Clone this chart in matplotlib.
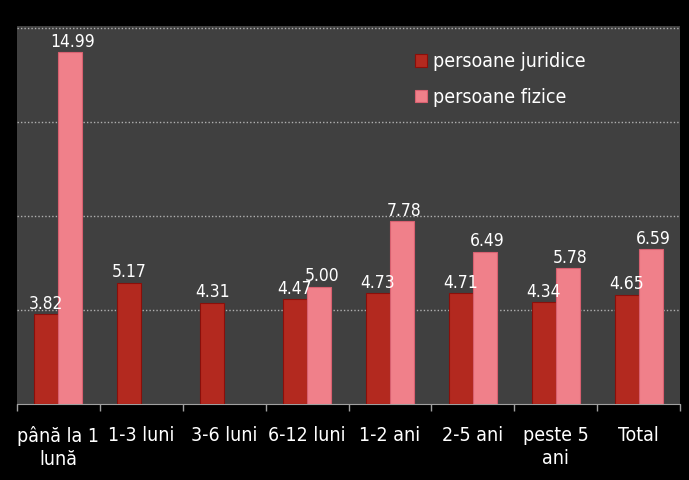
import numpy as np
import matplotlib
matplotlib.use("Agg")
import matplotlib.pyplot as plt
from matplotlib import font_manager as fm

categories = ["până la 1\nlună", "1-3 luni", "3-6 luni", "6-12 luni", "1-2 ani", "2-5 ani", "peste 5\nani", "Total"]
juridice = [3.82, 5.17, 4.31, 4.47, 4.73, 4.71, 4.34, 4.65]
fizice = [14.99, np.nan, np.nan, 5.00, 7.78, 6.49, 5.78, 6.59]
series_names = ["persoane juridice", "persoane fizice"]

cond_path = fm.findfont(fm.FontProperties(family="DejaVu Sans", stretch="condensed"))
if "Condensed" in cond_path:
    plt.rcParams['font.family'] = ['DejaVu Sans']
    plt.rcParams['font.stretch'] = 'condensed'
    fs_val, fs_tick, fs_leg = 12.5, 14, 14
else:
    plt.rcParams['font.family'] = ['Roboto', 'DejaVu Sans']
    fs_val, fs_tick, fs_leg = 12, 14, 14

fig = plt.figure(figsize=(6.89, 4.8), dpi=100)
fig.patch.set_facecolor("black")
ax = fig.add_axes([17/689, 1-404/480, (680-17)/689, (404-26)/480])
ax.set_facecolor("#404040")

x = np.arange(len(categories))
w = 0.29
dark = "#b3291f"
pink = "#f0808a"
ax.bar(x - w/2, juridice, w, color=dark, edgecolor="#8a0f0a", linewidth=0.8, label=series_names[0], zorder=3)
ax.bar(x + w/2, fizice, w, color=pink, edgecolor="#d86070", linewidth=0.8, label=series_names[1], zorder=3)

for xi, v in zip(x - w/2, juridice):
    ax.text(xi, v + 0.06, f"{v:.2f}", ha="center", va="bottom", color="white", fontsize=fs_val, zorder=4)
for xi, v in zip(x + w/2, fizice):
    if not np.isnan(v):
        ax.text(xi + 0.03, v + 0.06, f"{v:.2f}", ha="center", va="bottom", color="white", fontsize=fs_val, zorder=4)

ax.set_xlim(-0.5, len(categories) - 0.5)
ax.set_ylim(0, 16.1)
ax.set_yticks([4, 8, 12, 16])
ax.yaxis.grid(True, linestyle=(0, (1, 1.5)), color="#b0b0b0", linewidth=1.0, zorder=1)
ax.tick_params(axis="y", left=False, labelleft=False)

ax.set_xticks(x)
ax.set_xticklabels(categories, color="white", fontsize=fs_tick, linespacing=1.25)
ax.tick_params(axis="x", which="major", length=0, pad=16)
ax.set_xticks(np.arange(-0.5, len(categories)), minor=True)
ax.tick_params(axis="x", which="minor", length=5, color="#a0a0a0", width=1)

for s in ["top", "right", "left"]:
    ax.spines[s].set_visible(False)
ax.spines["bottom"].set_color("#a0a0a0")

ax.legend(loc="upper left", bbox_to_anchor=(0.574, 0.977), frameon=False,
          labelcolor="white", fontsize=fs_leg, handlelength=0.6, handleheight=0.6,
          handletextpad=0.3, labelspacing=0.85)

fig.savefig("out.png", dpi=100, facecolor="black")
